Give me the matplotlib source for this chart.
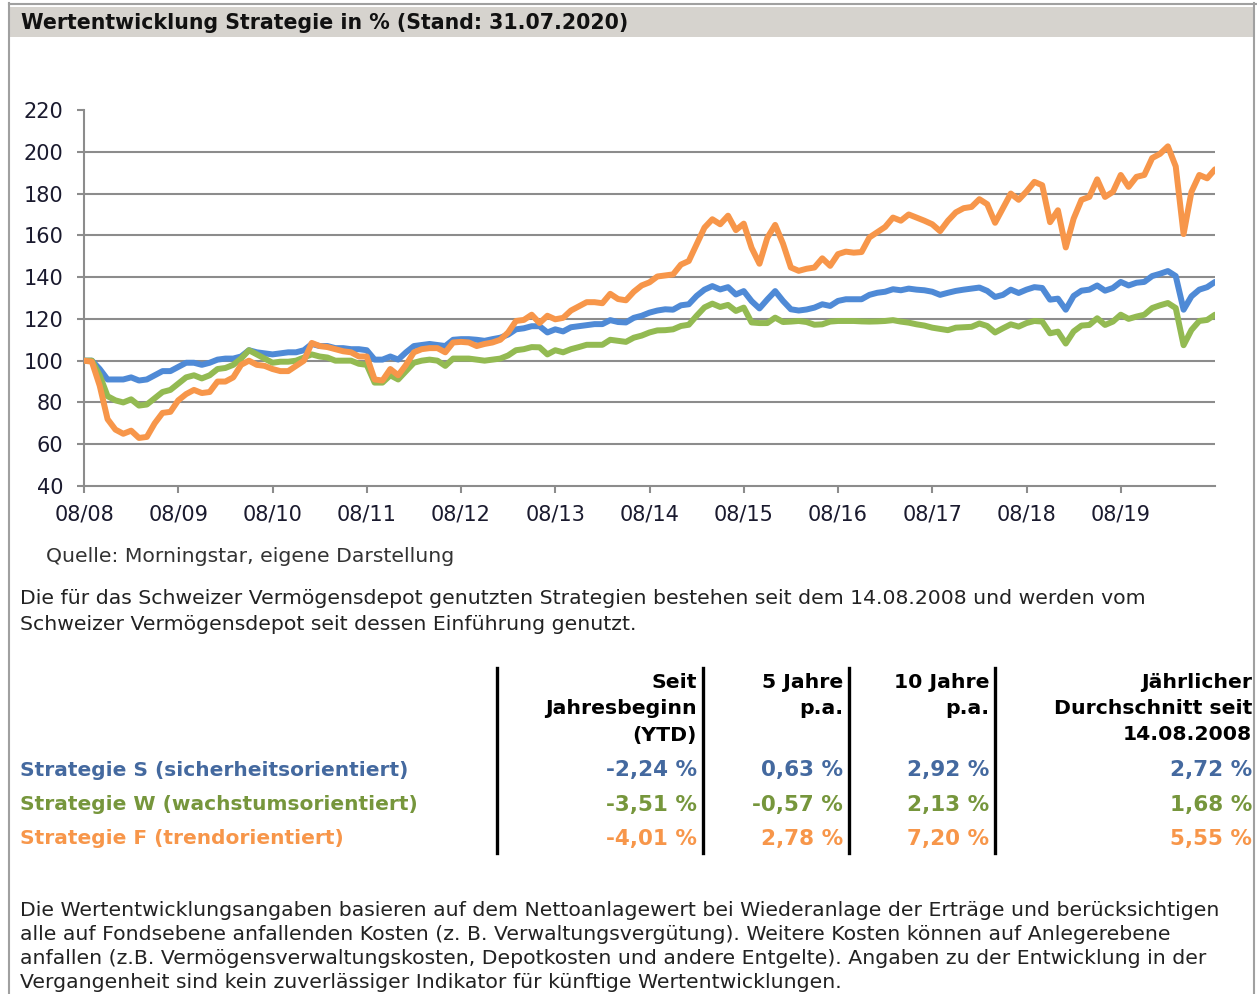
import matplotlib
matplotlib.use('Agg')
import matplotlib.pyplot as plt
from matplotlib.patches import Rectangle
from matplotlib.lines import Line2D
import numpy as np

W, H = 1257, 994

# monthly values from 14.08.2008 to 31.07.2020 (145 points)
strat_s = [100, 100, 96, 91, 91, 91, 92, 90.5, 91, 93, 95, 95,
           97, 99, 99, 98, 99, 100.5, 101, 101, 102, 105, 104, 103.5,
           103, 103.5, 104, 104, 105, 108, 107, 107, 106, 106, 105.5, 105.5,
           105, 100.5, 100.5, 102, 100.5, 104, 107, 107.5, 108, 107.5, 107, 110,
           110.3, 110.3, 110, 109.5, 110.3, 111, 112.5, 115, 115.5, 116.5, 116.5, 113.5,
           115, 114, 116, 116.5, 117, 117.5, 117.5, 119.4, 118.5, 118.3, 120.5, 121.5,
           123, 124, 124.6, 124.4, 126.5, 127, 131, 134, 135.7, 134.1, 135.2, 131.7,
           133.3, 128.5, 125, 129.3, 133.3, 128.6, 124.6, 124, 124.5, 125.4, 127, 126.2,
           128.6, 129.4, 129.4, 129.4, 131.5, 132.5, 133, 134.2, 133.7, 134.5, 134, 133.7,
           133, 131.5, 132.5, 133.4, 134, 134.5, 135, 133.4, 130.5, 131.5, 134, 132.4,
           134, 135.2, 134.8, 129.2, 129.7, 124.4, 131, 133.5, 134, 136, 133.5, 134.8,
           137.7, 136, 137.3, 137.7, 140.5, 141.6, 142.9, 140.5, 124.4, 130.8, 134, 135.2,
           137.7]
strat_w = [100, 100, 93, 83, 81, 80, 81.5, 78.5, 79, 82, 85, 86,
           89, 92, 93, 91.5, 93, 96, 96.5, 98, 101, 105, 103, 101,
           99, 99.5, 99.5, 100, 101.5, 103, 102, 101.5, 100, 100, 100, 98.5,
           98, 89.5, 89.5, 93, 91, 95, 99, 100, 100.5, 100, 97.5, 101,
           101, 101, 100.5, 100, 100.5, 101, 102.5, 105, 105.5, 106.5, 106.4, 103,
           105, 104, 105.5, 106.5, 107.6, 107.6, 107.6, 110, 109.5, 109, 111, 112,
           113.5, 114.5, 114.6, 115, 116.6, 117.2, 121.5, 125.5, 127.3, 125.7, 126.7, 123.8,
           125.4, 118.3, 118, 118, 120.6, 118.5, 118.7, 119, 118.5, 117.2, 117.4, 118.7,
           119, 119, 119, 118.8, 118.7, 118.8, 119, 119.4, 118.7, 118.2, 117.4, 116.8,
           115.8, 115.2, 114.6, 115.8, 116, 116.2, 117.8, 116.6, 113.5, 115.5, 117.4, 116.3,
           118, 119, 118.7, 113.1, 113.9, 108.2, 114, 116.8, 117.1, 120.3, 117.1, 118.7,
           122, 120, 121.1, 122, 125.2, 126.5, 127.6, 125.2, 107.4, 114.7, 119, 119.5,
           122]
strat_f = [100, 99.5, 88, 72, 67, 65, 66.5, 63, 63.5, 70, 75, 75.5,
           81, 84, 86, 84.5, 85, 90, 90, 92, 98, 100, 98, 97.5,
           96, 95, 95, 97.5, 100, 108.5, 107, 106.5, 105.5, 104.5, 104, 102,
           102, 91, 90.5, 96, 93, 98, 104, 105.5, 106, 106, 104, 108.7,
           109, 108.7, 107, 108, 108.7, 110, 113.5, 119, 119.5, 122, 118, 121.5,
           119.8, 120.5, 124, 126, 128, 128, 127.5, 132, 129.5, 128.9, 133, 136,
           137.5, 140.3, 140.8, 141.3, 146, 147.7, 155.7, 163.7, 167.7, 165.3, 169.4, 162.5,
           165.6, 154, 146.4, 158.8, 165, 156, 144.6, 143, 144, 144.6, 149, 145.4,
           151, 152.2, 151.7, 152, 159, 161.5, 164, 168.5, 167, 170, 168.5, 167,
           165.3, 162, 167, 171, 173, 173.6, 177.3, 174.9, 166, 173, 180, 177,
           181, 185.6, 184, 166.3, 172, 154.2, 168, 177, 178.4, 186.8, 178.4, 180.8,
           188.9, 183.2, 188, 188.9, 197, 199, 202.6, 193, 160.6, 180.8, 188.9, 187.3,
           191.6]

year_labels = ['08/08', '08/09', '08/10', '08/11', '08/12', '08/13',
               '08/14', '08/15', '08/16', '08/17', '08/18', '08/19']
y_ticks = [40, 60, 80, 100, 120, 140, 160, 180, 200, 220]

row_names = ['Strategie S (sicherheitsorientiert)',
             'Strategie W (wachstumsorientiert)',
             'Strategie F (trendorientiert)']
col_heads = [['Seit', 'Jahresbeginn', '(YTD)'],
             ['5 Jahre', 'p.a.'],
             ['10 Jahre', 'p.a.'],
             ['Jährlicher', 'Durchschnitt seit', '14.08.2008']]
ytd = ['-2,24 %', '-3,51 %', '-4,01 %']
y5 = ['0,63 %', '-0,57 %', '2,78 %']
y10 = ['2,92 %', '2,13 %', '7,20 %']
avg = ['2,72 %', '1,68 %', '5,55 %']

line_colors = ['#4f8ad6', '#93ba52', '#f7964a']
text_colors = ['#44699f', '#76963c', '#f7964a']

FS = 14.7  # body text size


def fx(x):
    return x / W


def fy(y):
    return 1 - y / H


fig = plt.figure(figsize=(W / 100, H / 100), dpi=100)
fig.patch.set_facecolor('white')
plt.rcParams['font.family'] = ['DejaVu Sans']

# frame and header bar
fig.add_artist(Line2D([fx(9), fx(9)], [fy(3), fy(994)], color='#a0a0a0', lw=1.5))
fig.add_artist(Line2D([fx(1254), fx(1254)], [fy(3), fy(994)], color='#a0a0a0', lw=1.5))
fig.add_artist(Line2D([fx(9), fx(1257)], [fy(4), fy(4)], color='#a0a0a0', lw=1.5))
fig.add_artist(Rectangle((fx(10), fy(37)), fx(1244), 30 / H, transform=fig.transFigure,
                         facecolor='#d6d3ce', edgecolor='none'))
fig.text(fx(21), fy(23), 'Wertentwicklung Strategie in % (Stand: 31.07.2020)',
         fontsize=14.8, fontweight='bold', va='center', ha='left', color='#111111')

# chart
ax = fig.add_axes([fx(84), fy(486), fx(1215 - 84), (486 - 110) / H])
x = np.arange(len(strat_s))
for vals, c in zip([strat_s, strat_w, strat_f], line_colors):
    ax.plot(x, vals, color=c, lw=4.3, solid_joinstyle='round', solid_capstyle='round', zorder=3)
ax.set_xlim(0, len(strat_s) - 1)
ax.set_ylim(40, 220)
ax.set_yticks(y_ticks)
ax.set_xticks(np.arange(len(year_labels)) * 12)
ax.set_xticklabels(year_labels)
for v in y_ticks[1:-1]:
    ax.axhline(v, color='#8c8c8c', lw=1.5, zorder=1)
for s in ['top', 'right']:
    ax.spines[s].set_visible(False)
for s in ['left', 'bottom']:
    ax.spines[s].set_color('#8c8c8c')
    ax.spines[s].set_linewidth(1.5)
ax.tick_params(axis='both', colors='#8c8c8c', width=1.5, length=5, labelcolor='#1a1a2e',
               labelsize=15)
ax.tick_params(axis='y', pad=10)
ax.tick_params(axis='x', pad=8)

fig.text(fx(46), fy(556), 'Quelle: Morningstar, eigene Darstellung', fontsize=FS,
         va='center', color='#333333')
fig.text(fx(20), fy(598), 'Die für das Schweizer Vermögensdepot genutzten Strategien bestehen seit dem 14.08.2008 und werden vom',
         fontsize=FS, va='center', color='#222222')
fig.text(fx(20), fy(624), 'Schweizer Vermögensdepot seit dessen Einführung genutzt.',
         fontsize=FS, va='center', color='#222222')

# table
for xv in [497, 703, 849, 995]:
    fig.add_artist(Line2D([fx(xv), fx(xv)], [fy(668), fy(853)], color='black', lw=2.4))
col_right = [697, 843, 989, 1252]
head_y = [683, 709, 735]
for cr, lines in zip(col_right, col_heads):
    for hy, t in zip(head_y, lines):
        fig.text(fx(cr), fy(hy), t, fontsize=FS, fontweight='bold', ha='right', va='center',
                 color='black')
row_y = [770, 805, 839]
for i in range(3):
    fig.text(fx(20), fy(row_y[i]), row_names[i], fontsize=14.5, fontweight='bold',
             ha='left', va='center', color=text_colors[i])
    for cr, col in zip(col_right, [ytd, y5, y10, avg]):
        fig.text(fx(cr), fy(row_y[i]), col[i], fontsize=15.5, fontweight='bold',
                 ha='right', va='center', color=text_colors[i])

foot = ['Die Wertentwicklungsangaben basieren auf dem Nettoanlagewert bei Wiederanlage der Erträge und berücksichtigen',
        'alle auf Fondsebene anfallenden Kosten (z. B. Verwaltungsvergütung). Weitere Kosten können auf Anlegerebene',
        'anfallen (z.B. Vermögensverwaltungskosten, Depotkosten und andere Entgelte). Angaben zu der Entwicklung in der',
        'Vergangenheit sind kein zuverlässiger Indikator für künftige Wertentwicklungen.']
for k, t in enumerate(foot):
    fig.text(fx(20), fy(910 + 24 * k), t, fontsize=FS, va='center', color='#222222')

fig.savefig('out.png', dpi=100)
